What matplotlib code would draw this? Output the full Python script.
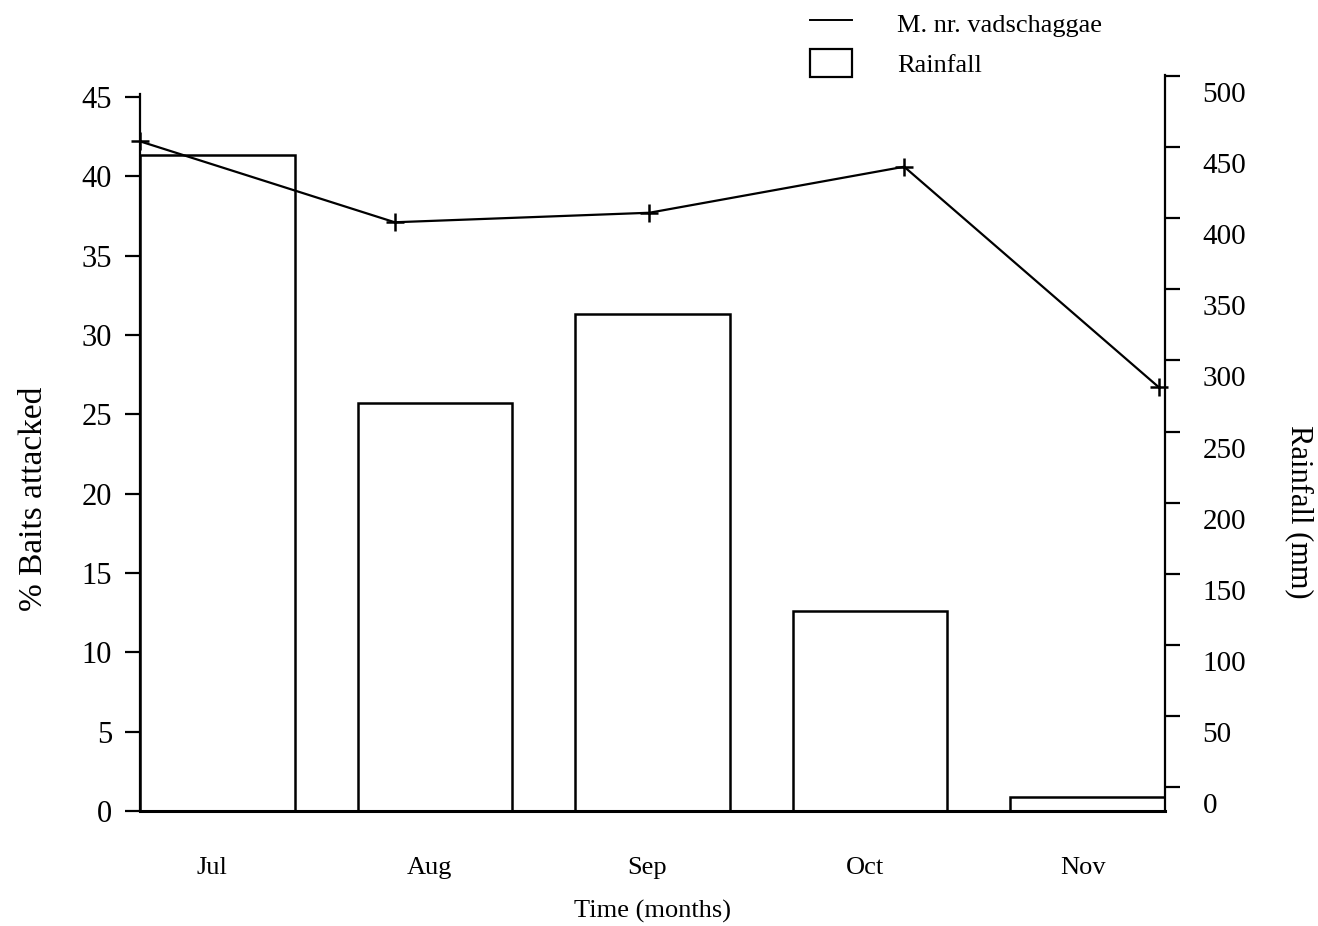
import matplotlib
matplotlib.use("Agg")

import matplotlib.pyplot as plt
import matplotlib.transforms as mtransforms
from matplotlib.lines import Line2D
from matplotlib.patches import Patch

# ----- data -----
months = ["Jul", "Aug", "Sep", "Oct", "Nov"]
baits_attacked = [42.2, 37.1, 37.7, 40.6, 26.7]     # % baits attacked
rainfall_mm = [456, 281, 344, 135, 4]                # monthly rainfall (mm)

left_ticks = list(range(0, 50, 5))
right_ticks = list(range(0, 550, 50))

plt.rcParams["font.family"] = ["Liberation Serif", "DejaVu Serif"]
plt.rcParams["axes.linewidth"] = 1.6

fig = plt.figure(figsize=(13.18, 9.26), dpi=100)
rect = [140 / 1318, 115 / 926, 1025 / 1318, 736 / 926]

# ----- rainfall bars (right axis) -----
ax_bar = fig.add_axes(rect)
bar_w = 0.71
x_bar = list(range(len(months)))
ax_bar.set_xlim(-bar_w / 2, len(months) - 1 + bar_w / 2)
ax_bar.set_ylim(-5.6, 512)
ax_bar.bar(x_bar, [r + 5.6 for r in rainfall_mm], bottom=-5.6, width=bar_w,
           facecolor="white", edgecolor="black", linewidth=1.8, zorder=2)

ax_bar.yaxis.tick_right()
ax_bar.yaxis.set_label_position("right")
ax_bar.set_yticks(right_ticks)
ax_bar.tick_params(axis="y", direction="out", length=11, width=1.6,
                   labelsize=21, pad=16)
# tick marks sit a little above their numbers on this axis
shift = mtransforms.ScaledTranslation(0, 16 / 100, fig.dpi_scale_trans)
for t in ax_bar.yaxis.get_major_ticks():
    t.tick2line.set_transform(t.tick2line.get_transform() + shift)

ax_bar.set_xticks(x_bar)
ax_bar.set_xticklabels(months, fontsize=19)
ax_bar.tick_params(axis="x", length=0, pad=33)
# month names sit slightly left of the bar centres
nudge = mtransforms.ScaledTranslation(-5 / 100, 0, fig.dpi_scale_trans)
for lbl in ax_bar.get_xticklabels():
    lbl.set_transform(lbl.get_transform() + nudge)
ax_bar.set_xlabel("Time (months)", fontsize=19, labelpad=15)
ax_bar.set_ylabel("Rainfall (mm)", fontsize=22, rotation=270)
ax_bar.yaxis.set_label_coords(1.145, 0.406)

ax_bar.spines["top"].set_visible(False)
ax_bar.spines["left"].set_visible(False)
ax_bar.spines["bottom"].set_linewidth(2.2)

# ----- bait attack line (left axis) -----
ax_line = fig.add_axes(rect)
ax_line.patch.set_visible(False)
x_line = list(range(len(months)))
ax_line.set_xlim(0, 4.024)
ax_line.set_ylim(0, 46.38)
ax_line.plot(x_line, baits_attacked, color="black", linewidth=1.6,
             marker="+", markersize=13, markeredgewidth=1.8, zorder=3,
             clip_on=False)

ax_line.set_yticks(left_ticks)
ax_line.tick_params(axis="y", direction="out", length=11, width=1.6,
                    labelsize=22, pad=9)
ax_line.set_xticks([])
ax_line.set_ylabel("% Baits attacked", fontsize=24)
ax_line.yaxis.set_label_coords(-0.089, 0.424)

for side in ("top", "right", "bottom"):
    ax_line.spines[side].set_visible(False)
ax_line.spines["left"].set_bounds(0, 45.2)

# ----- legend -----
handles = [
    Line2D([], [], color="black", linewidth=1.4),
    Patch(facecolor="white", edgecolor="black", linewidth=1.6),
]
fig.legend(handles, ["M. nr. vadschaggae", "Rainfall"],
           loc="upper left", bbox_to_anchor=(810 / 1318, 1 - 9 / 926),
           frameon=False, fontsize=19, borderpad=0, borderaxespad=0,
           handlelength=1.6, handleheight=1.25, handletextpad=1.7,
           labelspacing=0.45)

plt.savefig("out.png", dpi=100)
plt.close(fig)
